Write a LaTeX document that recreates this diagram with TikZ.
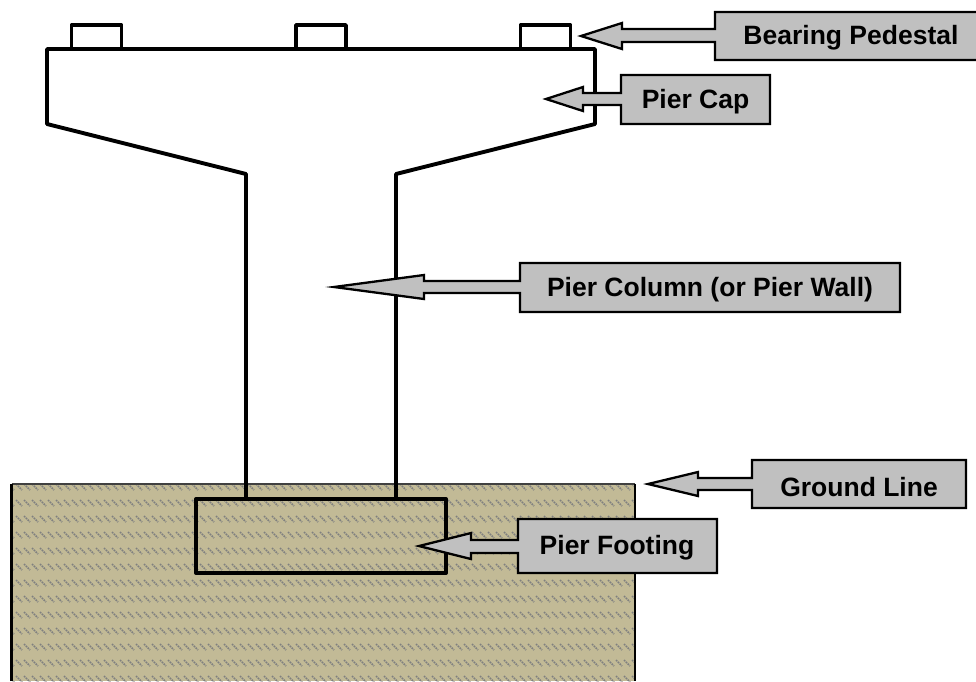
\documentclass[tikz,border=0pt]{standalone}
\usepackage{xcolor}
\usepackage{fontspec}
\setmainfont{Liberation Sans}
\definecolor{soilfill}{RGB}{194,186,150}
\definecolor{soilhatch}{RGB}{128,128,128}
\definecolor{calloutfill}{RGB}{192,192,192}

\begin{document}
\begin{tikzpicture}[
    x=1pt, y=-1pt,
    pierline/.style={line width=3.9pt, line join=round, line cap=round},
    hatchline/.style={soilhatch, line width=1.5pt, dash pattern=on 1.7pt off 0.9pt},
    callout/.style={draw=black, fill=calloutfill, line width=2.3pt, line join=miter},
    labelstyle/.style={font=\fontsize{26.5}{30}\selectfont\bfseries, inner sep=0pt}
]
\useasboundingbox (0,0) rectangle (976,681);

% ground block
\fill[soilfill] (11.5,484) rectangle (635,681);
\begin{scope}
    \clip (11.5,484) rectangle (635,681);
    \foreach \row in {0,...,12} {
        \foreach \col in {1,...,79} {
            \draw[hatchline] (8*\col,484+16*\row) -- ++(6,6);
        }
    }
\end{scope}
\draw[line width=1.8pt, black!75] (11.5,484) -- (635,484);
\draw[line width=2.5pt] (11.5,681) -- (11.5,484);
\draw[line width=2.5pt] (635,484) -- (635,681);

% pier
\draw[pierline] (246,499) -- (246,174) -- (47,124) -- (47,49) -- (595,49) -- (595,124) -- (396,174) -- (396,499);
\draw[pierline] (196,499) rectangle (446,573);
\foreach \px in {71.5,296,520.5} {
    \draw[pierline, line width=3.5pt] (\px,49) -- (\px,25) -- (\px+50,25) -- (\px+50,49);
}

% callouts
\draw[callout] (715,12) -- (985,12) -- (985,60) -- (715,60) -- (715,42) -- (622,42) -- (622,49) -- (581,36) -- (622,23) -- (622,29) -- (715,29) -- cycle;
\draw[callout] (621,75) -- (770,75) -- (770,124) -- (621,124) -- (621,105) -- (583,105) -- (583,111) -- (546,99) -- (583,87) -- (583,93) -- (621,93) -- cycle;
\draw[callout] (520,263) -- (900,263) -- (900,312) -- (520,312) -- (520,293) -- (424,293) -- (424,299) -- (334,287) -- (424,275) -- (424,281) -- (520,281) -- cycle;
\draw[callout] (752,460) -- (966,460) -- (966,508) -- (752,508) -- (752,490) -- (698,490) -- (698,496) -- (648,484) -- (698,472) -- (698,478) -- (752,478) -- cycle;
\draw[callout] (518,519) -- (717,519) -- (717,573) -- (518,573) -- (518,553) -- (471,553) -- (471,559) -- (419,546) -- (471,533) -- (471,540) -- (518,540) -- cycle;

\node[labelstyle] (bearing) at (851,38) {Bearing Pedestal};
\node[labelstyle] (cap) at (695.5,102) {Pier Cap};
\node[labelstyle] (column) at (710,290) {Pier Column (or Pier Wall)};
\node[labelstyle] (groundline) at (859,487) {Ground Line};
\node[labelstyle] (footing) at (617,548) {Pier Footing};
\end{tikzpicture}
\end{document}
